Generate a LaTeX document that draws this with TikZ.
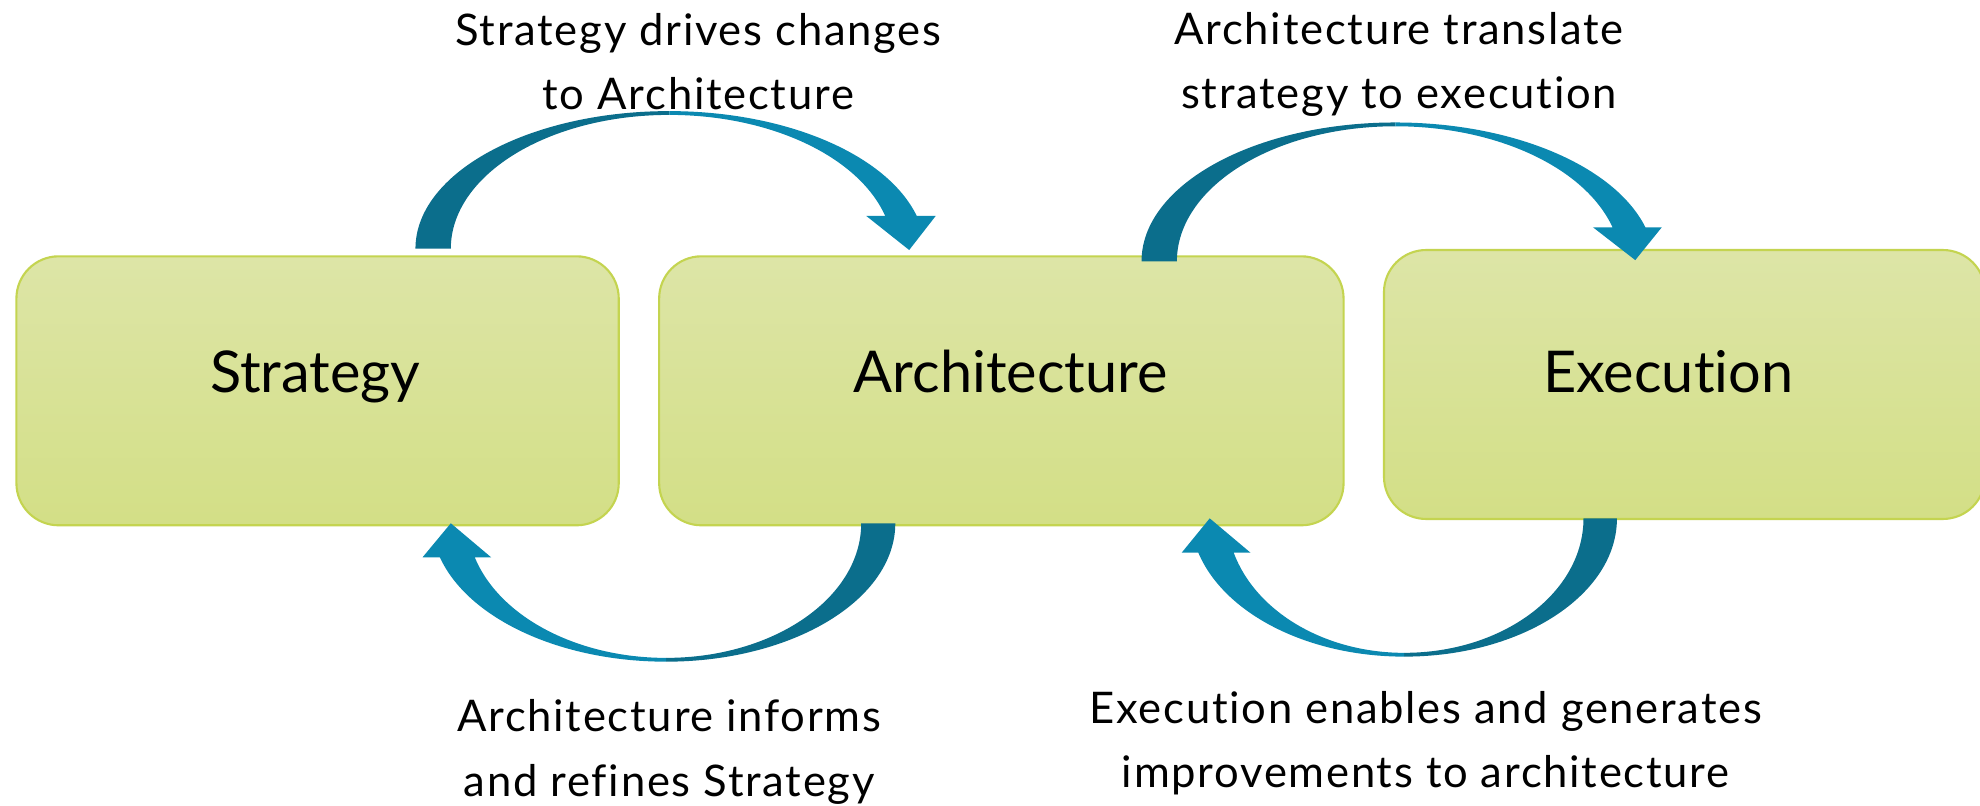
\documentclass[tikz,border=0pt]{standalone}
\usepackage{fontspec}
\newfontfamily\lblfont{Lato}[LetterSpace=4,Ligatures=NoCommon]
\newfontfamily\boxfont{Lato}[Ligatures=NoCommon]
\definecolor{darkteal}{RGB}{11,110,140}
\definecolor{lightteal}{RGB}{11,137,177}
\definecolor{boxtop}{RGB}{221,229,167}
\definecolor{boxbot}{RGB}{211,223,134}
\definecolor{boxline}{RGB}{196,212,80}
\tikzset{
  stagebox/.style={rectangle, rounded corners=12pt, draw=boxline, line width=0.6pt,
    top color=boxtop, bottom color=boxbot, inner sep=0pt,
    font=\boxfont\fontsize{16.4pt}{20pt}\selectfont,
    text height=12.5pt, text depth=11.7pt},
  flowlabel/.style={align=center, inner sep=0pt, text=black,
    font=\lblfont\fontsize{12.4pt}{18.3pt}\selectfont},
  darkpart/.style={fill=darkteal},
  lightpart/.style={fill=lightteal}
}
\begin{document}
\begin{tikzpicture}[x=0.3593pt, y=-0.3593pt]
\useasboundingbox (0,0) rectangle (1568,638.3);
\fill[white] (0,0) rectangle (1568,638.3);

% boxes
\node[stagebox, minimum width=477*0.3593pt, minimum height=213*0.3593pt,
  execute at begin node={\hspace*{-1.3pt}}] (strategy) at (251.5,309.5) {Strategy};
\node[stagebox, minimum width=542*0.3593pt, minimum height=213*0.3593pt,
  execute at begin node={\hspace*{5.4pt}}] (architecture) at (793,309.5) {Architecture};
\node[stagebox, minimum width=476*0.3593pt, minimum height=213*0.3593pt, text depth=8pt,
  execute at begin node={\hspace*{-9.3pt}}] (execution) at (1334,304.5) {Execution};

% arrow A: Strategy -> Architecture (top)
\path[darkpart] (329,197) arc[start angle=180,end angle=270,x radius=201,y radius=109]
  -- (530,91) arc[start angle=270,end angle=180,x radius=173,y radius=106] -- cycle;
\path[lightpart] (530,88) arc[start angle=270,end angle=345,x radius=202.9,y radius=112]
  -- (741,171) -- (720,198) -- (686,171) -- (701,171)
  arc[start angle=344.57,end angle=270,x radius=177.4,y radius=109] -- cycle;

% arrow B: Architecture -> Execution (top)
\path[darkpart] (904,207) arc[start angle=180,end angle=270,x radius=201,y radius=110]
  -- (1105,100) arc[start angle=270,end angle=180,x radius=173,y radius=107] -- cycle;
\path[lightpart] (1105,97) arc[start angle=270,end angle=344.6,x radius=205.4,y radius=113]
  -- (1316,180) -- (1295,206) -- (1261.5,180) -- (1277,180)
  arc[start angle=344.17,end angle=270,x radius=178.8,y radius=110] -- cycle;

% arrow C: Architecture -> Strategy (bottom)
\path[darkpart] (709,414.4) arc[start angle=0,end angle=90,x radius=181.5,y radius=109.6]
  -- (527.5,521) arc[start angle=90,end angle=0,x radius=154.5,y radius=106.6] -- cycle;
\path[lightpart] (527.5,524) arc[start angle=90,end angle=164.4,x radius=186,y radius=113]
  -- (334.6,441.4) -- (357,414.4) -- (389,441.4) -- (376,441.4)
  arc[start angle=163.96,end angle=90,x radius=157.6,y radius=110] -- cycle;

% arrow D: Execution -> Architecture (bottom)
\path[darkpart] (1280.5,410.5) arc[start angle=0,end angle=90,x radius=168.5,y radius=109.5]
  -- (1112,517) arc[start angle=90,end angle=0,x radius=142,y radius=106.5] -- cycle;
\path[lightpart] (1112,520) arc[start angle=90,end angle=164.23,x radius=169.4,y radius=113]
  -- (935.8,437.7) -- (958,410.5) -- (990.3,437.7) -- (977,437.7)
  arc[start angle=163.8,end angle=90,x radius=140.6,y radius=110] -- cycle;

% labels (anchor = baseline of the last line)
\node[flowlabel, anchor=base] (drives) at (553,87) {Strategy drives changes\\to Architecture};
\node[flowlabel, anchor=base] (translate) at (1108,86) {Architecture translate\\strategy to execution};
\node[flowlabel, anchor=base] (informs) at (530,630.5) {Architecture informs\\and refines Strategy};
\node[flowlabel, anchor=base] (enables) at (1129,624) {Execution enables and generates\\improvements to architecture};
\end{tikzpicture}
\end{document}
